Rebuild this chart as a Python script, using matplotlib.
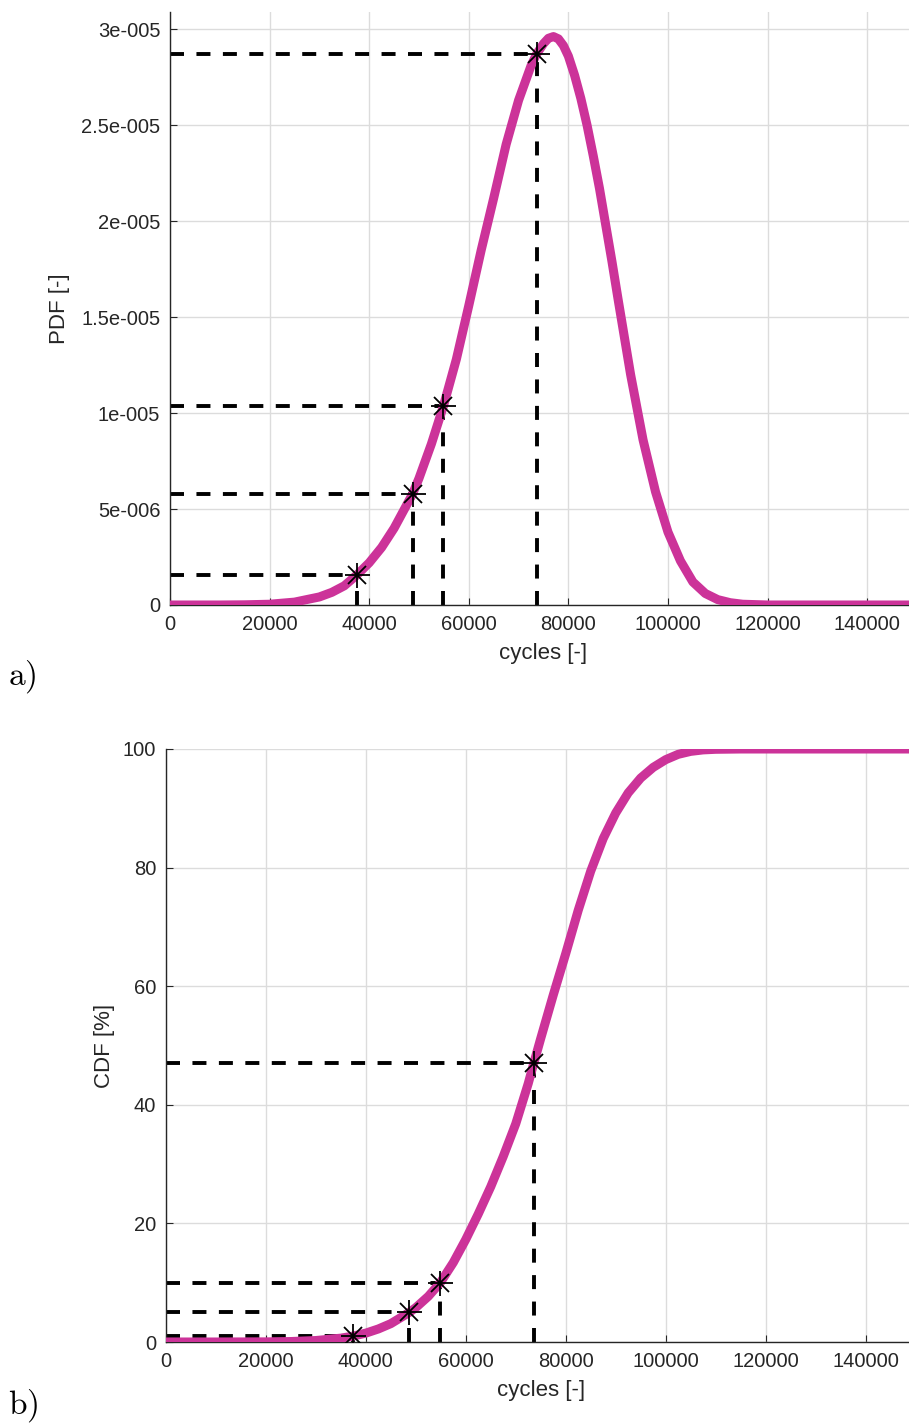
import matplotlib
matplotlib.use("Agg")
import matplotlib.pyplot as plt
from matplotlib.ticker import FixedLocator, FixedFormatter

plt.rcParams['font.family'] = ['Liberation Sans', 'DejaVu Sans']
plt.rcParams['mathtext.fontset'] = 'cm'

# PDF curve read off panel a)
pdf_x = [0, 10000, 15000, 20000, 25000, 30000, 32500, 35000, 37500, 40000,
         42500, 45000, 48700, 50000, 52500, 54900, 57500, 60000, 62500, 65000,
         67500, 70000, 72500, 73600, 75000, 76000, 77000, 78000, 79000, 80000,
         81250, 82500, 83750, 85000, 86250, 87500, 88750, 90000, 92500, 95000,
         97500, 100000, 102500, 105000, 107500, 110000, 112500, 115000,
         120000, 150000]
pdf_y = [0, 0, 1e-8, 4e-8, 1.5e-7, 4.2e-7, 6.6e-7, 1.0e-6, 1.56e-6, 2.2e-6,
         3.0e-6, 4.0e-6, 5.78e-6, 6.6e-6, 8.4e-6, 1.036e-5, 1.28e-5, 1.56e-5,
         1.85e-5, 2.12e-5, 2.40e-5, 2.63e-5, 2.81e-5, 2.87e-5, 2.925e-5,
         2.953e-5, 2.962e-5, 2.95e-5, 2.915e-5, 2.86e-5, 2.76e-5, 2.64e-5,
         2.50e-5, 2.34e-5, 2.17e-5, 1.98e-5, 1.79e-5, 1.59e-5, 1.20e-5,
         8.6e-6, 5.9e-6, 3.8e-6, 2.3e-6, 1.2e-6, 6e-7, 2.8e-7, 1.2e-7, 4e-8,
         0, 0]

# CDF curve read off panel b), in %
cdf_x = [0, 10000, 20000, 25000, 30000, 35000, 37500, 40000, 42500, 45000,
         48700, 50000, 52500, 54900, 57500, 60000, 62500, 65000, 67500, 70000,
         72500, 73600, 75000, 77500, 80000, 82500, 85000, 87500, 90000, 92500,
         95000, 97500, 100000, 102500, 105000, 107500, 110000, 115000, 120000,
         150000]
cdf_y = [0, 0, 0.02, 0.08, 0.25, 0.65, 1.0, 1.5, 2.2, 3.1, 5.0, 5.8, 7.7,
         10.0, 13.4, 17.3, 21.6, 26.2, 31.3, 36.8, 43.6, 47.0, 51.2, 58.5,
         65.5, 72.8, 79.4, 84.9, 89.2, 92.6, 95.1, 96.9, 98.2, 99.1, 99.6,
         99.85, 99.95, 100, 100, 100]

# marked points (1 %, 5 %, 10 %, mean)
mark_x = [37500, 48700, 54900, 73600]
mark_pdf = [1.56e-6, 5.78e-6, 1.036e-5, 2.87e-5]
mark_cdf = [1, 5, 10, 47]

x_ticks = [0, 20000, 40000, 60000, 80000, 100000, 120000, 140000]
x_labels = ['0', '20000', '40000', '60000', '80000', '100000', '120000', '140000']
pdf_ticks = [0, 5e-6, 1e-5, 1.5e-5, 2e-5, 2.5e-5, 3e-5]
pdf_labels = ['0', '5e-006', '1e-005', '1.5e-005', '2e-005', '2.5e-005', '3e-005']
cdf_ticks = [0, 20, 40, 60, 80, 100]
cdf_labels = ['0', '20', '40', '60', '80', '100']

curve_col = '#CC3399'
txt_col = '#262626'
W, H = 909, 1427

fig = plt.figure(figsize=(W / 100, H / 100), dpi=100)
ax1 = fig.add_axes([170 / W, (H - 605) / H, (W - 170) / W, 593 / H])
ax2 = fig.add_axes([166 / W, (H - 1342) / H, (W - 166) / W, 593 / H])


def style(ax, yticks, ylabels, ylabel, ylab_x):
    ax.xaxis.set_major_locator(FixedLocator(x_ticks))
    ax.xaxis.set_major_formatter(FixedFormatter(x_labels))
    ax.yaxis.set_major_locator(FixedLocator(yticks))
    ax.yaxis.set_major_formatter(FixedFormatter(ylabels))
    ax.grid(True, color='#dcdcdc', lw=1.0)
    ax.set_axisbelow(True)
    for s in ['top', 'right']:
        ax.spines[s].set_visible(False)
    for s in ['left', 'bottom']:
        ax.spines[s].set_color(txt_col)
        ax.spines[s].set_linewidth(1.0)
    ax.tick_params(direction='in', length=5, width=0.8, colors=txt_col,
                   labelsize=14.5, pad=7)
    ax.set_xlabel('cycles [-]', fontsize=16, color=txt_col)
    ax.set_ylabel(ylabel, fontsize=16, color=txt_col)
    ax.xaxis.set_label_coords(0.505, -0.064)
    ax.yaxis.set_label_coords(ylab_x, 0.5)


def guides(ax, ys):
    for x, y in zip(mark_x, ys):
        ax.plot([0, x], [y, y], color='black', lw=2.8,
                linestyle=(0, (3.6, 3.2)), zorder=2)
        ax.plot([x, x], [0, y], color='black', lw=2.8,
                linestyle=(0, (3.6, 3.2)), zorder=2)
    ax.plot(mark_x, ys, linestyle='none', marker='+', ms=18, mew=1.3,
            color='black', zorder=4)
    ax.plot(mark_x, ys, linestyle='none', marker='x', ms=13, mew=1.3,
            color='black', zorder=4)


# a) PDF
ax1.plot(pdf_x, pdf_y, color=curve_col, lw=6.5, zorder=3,
         solid_joinstyle='round', solid_capstyle='butt')
guides(ax1, mark_pdf)
ax1.set_xlim(0, 148400)
ax1.set_ylim(0, 3.09e-5)
style(ax1, pdf_ticks, pdf_labels, 'PDF [-]', -0.135)

# b) CDF
ax2.plot(cdf_x, cdf_y, color=curve_col, lw=6.5, zorder=3,
         solid_joinstyle='round', solid_capstyle='butt')
guides(ax2, mark_cdf)
ax2.set_xlim(0, 148700)
ax2.set_ylim(0, 100)
style(ax2, cdf_ticks, cdf_labels, 'CDF [%]', -0.069)

fig.text(8 / W, 1 - 677 / H, r'$\mathrm{a)}$', fontsize=24, va='center')
fig.text(8 / W, 1 - 1406 / H, r'$\mathrm{b)}$', fontsize=24, va='center')

fig.savefig('out.png', dpi=100)
